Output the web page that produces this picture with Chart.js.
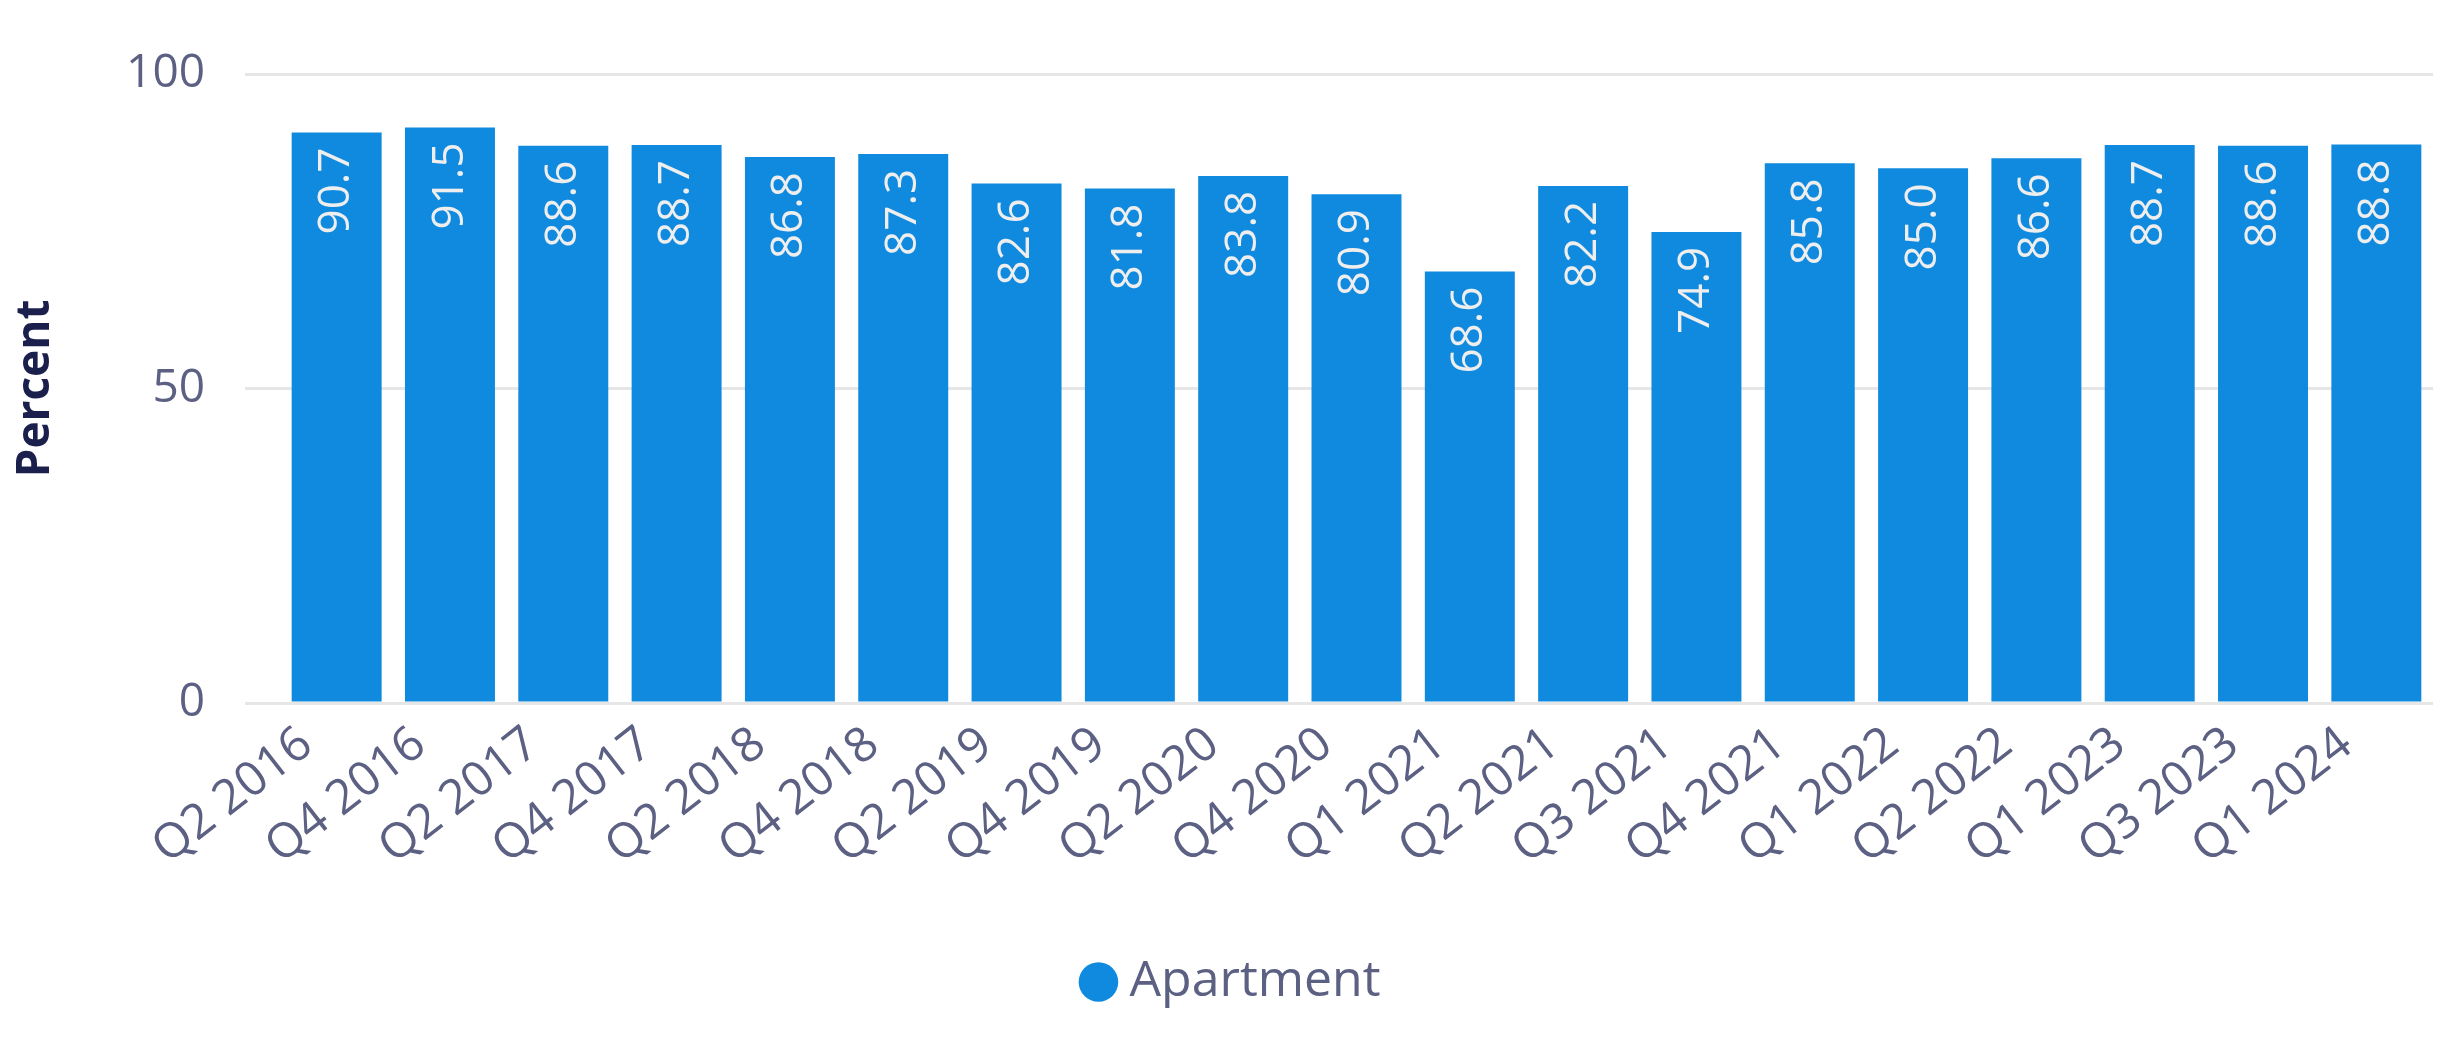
<!DOCTYPE html>
<html>
<head>
<meta charset="utf-8">
<style>
  html, body { margin: 0; padding: 0; background: #ffffff; }
  #wrap { width: 2437px; height: 1051px; }
</style>
</head>
<body>
<div id="wrap"><canvas id="grafico" width="2437" height="1051"></canvas></div>
<script src="https://cdn.jsdelivr.net/npm/chart.js"></script>
<script>
    // quarters shown on the x axis
    const trimestres = ['Q2 2016', 'Q4 2016', 'Q2 2017', 'Q4 2017', 'Q2 2018', 'Q4 2018',
        'Q2 2019', 'Q4 2019', 'Q2 2020', 'Q4 2020', 'Q1 2021', 'Q2 2021', 'Q3 2021',
        'Q4 2021', 'Q1 2022', 'Q2 2022', 'Q1 2023', 'Q3 2023', 'Q1 2024'];

    // Apartment, percent
    const valoresApartment = [90.7, 91.5, 88.6, 88.7, 86.8, 87.3, 82.6, 81.8, 83.8, 80.9,
        68.6, 82.2, 74.9, 85.8, 85.0, 86.6, 88.7, 88.6, 88.8];

    const ticksY = [0, 50, 100];

    const fuente = '"Open Sans", "Noto Sans", sans-serif';
    const colorTexto = '#5c6082';
    const colorBarra = '#108ade';

    // etiquetas giradas dentro de cada barra
    const etiquetasBarras = {
        id: 'etiquetasBarras',
        afterDatasetsDraw(chart) {
            const ctx = chart.ctx;
            const meta = chart.getDatasetMeta(0);
            const datos = chart.data.datasets[0].data;
            ctx.save();
            ctx.font = '44px ' + fuente;
            ctx.fillStyle = '#eeeeee';
            ctx.textAlign = 'right';
            ctx.textBaseline = 'middle';
            meta.data.forEach((barra, i) => {
                ctx.save();
                ctx.translate(barra.x, barra.y + 15);
                ctx.rotate(-Math.PI / 2);
                ctx.fillText(datos[i].toFixed(1), 0, 0);
                ctx.restore();
            });
            ctx.restore();
        }
    };

    function crearGrafico() {
        const ctx = document.getElementById('grafico').getContext('2d');
        new Chart(ctx, {
            type: 'bar',
            data: {
                labels: trimestres,
                datasets: [{
                    label: 'Apartment',
                    data: valoresApartment,
                    backgroundColor: colorBarra,
                    borderWidth: 0,
                    barPercentage: 0.794,
                    categoryPercentage: 1.0
                }]
            },
            options: {
                responsive: false,
                animation: false,
                layout: { padding: { top: 74, right: 4, bottom: 34, left: 40 } },
                plugins: {
                    tooltip: { enabled: false },
                    legend: {
                        position: 'bottom',
                        labels: {
                            usePointStyle: true,
                            pointStyle: 'circle',
                            boxWidth: 12,
                            boxHeight: 28,
                            padding: 20,
                            color: colorTexto,
                            font: { family: fuente, size: 50 }
                        }
                    }
                },
                scales: {
                    x: {
                        grid: { display: false, drawTicks: false },
                        border: { display: false },
                        ticks: {
                            color: colorTexto,
                            font: { family: fuente, size: 48 },
                            minRotation: 38,
                            maxRotation: 38,
                            autoSkip: false,
                            padding: 13,
                            labelOffset: -30
                        },
                        afterFit(escala) { escala.height = 234; }
                    },
                    y: {
                        min: 0,
                        max: 100,
                        afterBuildTicks(escala) {
                            escala.ticks = ticksY.map(v => ({ value: v }));
                        },
                        grid: {
                            color: '#e6e6e6',
                            lineWidth: 3,
                            drawTicks: true,
                            tickLength: 35
                        },
                        border: { display: false },
                        ticks: {
                            color: colorTexto,
                            font: { family: fuente, size: 46 },
                            padding: 40
                        },
                        title: {
                            display: true,
                            text: 'Percent',
                            color: '#1b1f4b',
                            font: { family: fuente, size: 46, weight: 'bold' },
                            padding: { top: -32, bottom: 0 }
                        },
                        afterFit(escala) { escala.width = 240; }
                    }
                }
            },
            plugins: [etiquetasBarras]
        });
    }

    document.addEventListener('DOMContentLoaded', crearGrafico);
</script>
</body>
</html>
